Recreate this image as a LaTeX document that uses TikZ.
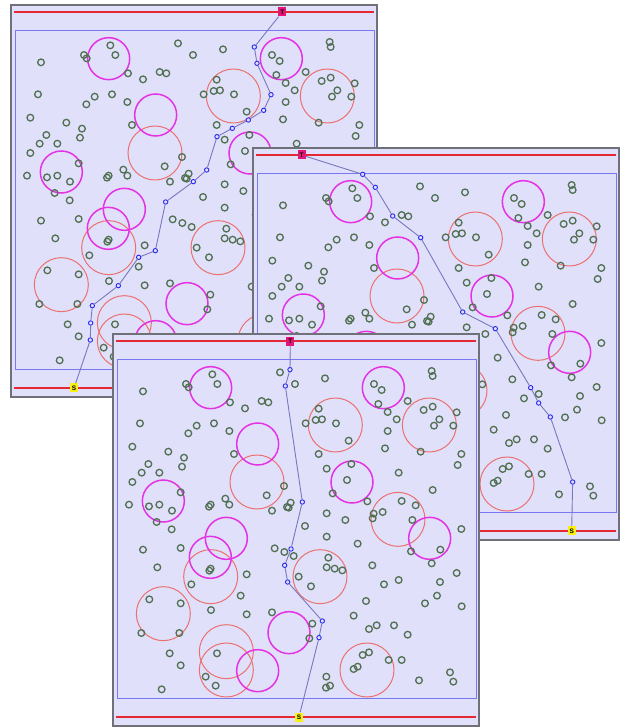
\documentclass[tikz,border=0pt]{standalone}
\usepackage{fontspec}
\setsansfont{Liberation Sans}
\definecolor{panelbg}{RGB}{224,224,250}
\definecolor{framegray}{RGB}{112,112,120}
\definecolor{redline}{RGB}{228,40,52}
\definecolor{bluerect}{RGB}{120,120,240}
\definecolor{obst}{RGB}{82,112,82}
\definecolor{pinkc}{RGB}{228,50,228}
\definecolor{salmonc}{RGB}{236,112,112}
\definecolor{pathline}{RGB}{120,120,190}
\definecolor{pathpt}{RGB}{40,40,240}
\definecolor{tcol}{RGB}{228,20,120}
\definecolor{scol}{RGB}{250,240,20}
\tikzset{
  obs/.style={draw=obst, line width=1.3pt},
  pinkcirc/.style={draw=pinkc, line width=1.5pt},
  salcirc/.style={draw=salmonc, line width=1pt},
  pp/.style={circle, draw=pathpt, fill=panelbg, line width=0.9pt, inner sep=0pt, minimum size=4.4pt},
  tbox/.style={rectangle, fill=tcol, inner sep=0pt, minimum width=8pt, minimum height=9pt, font=\sffamily\bfseries\fontsize{6.5}{6.5}\selectfont},
  sbox/.style={rectangle, fill=scol, inner sep=0pt, minimum width=8pt, minimum height=9pt, font=\sffamily\bfseries\fontsize{6.5}{6.5}\selectfont},
  pathl/.style={draw=pathline, line width=0.9pt},
  panelframe/.style={draw=framegray, line width=1.5pt, fill=panelbg},
  redbar/.style={draw=redline, line width=2pt},
  innerrect/.style={draw=bluerect, line width=0.9pt}
}
\newcommand\drawfield{%
  \foreach \x/\y in {676/285,958/285,441/456,864/568,302/740,630/740,160/851,349/965,349/1020,771/1020}
    \draw[salcirc] (\x,\y) circle[radius=81];
  \foreach \x/\y in {302/173,820/173,443/342,726/456,160/513,959/625,349/625,301/682,537/908,443/1022}
    \draw[pinkcirc] (\x,\y) circle[radius=63];
  \foreach \x/\y in {307/133,322/162,228/162,236/172,99/184,360/217,405/235,455/213,475/217,510/127,555/162,
    645/145,792/162,815/180,805/222,965/123,968/138,893/213,833/246,860/268,
    626/236,617/270,636/268,678/280,716/332,587/280,
    941/240,968/230,988/268,972/287,1030/287,1040/247,833/303,825/355,
    90/280,260/287,235/310,312/280,358/303,
    67/350,175/365,222/383,216/410,115/402,95/428,148/428,67/456,372/372,
    626/372,650/416,724/402,711/450,866/428,932/365,1054/372,1043/405,
    212/487,57/524,117/529,148/524,186/542,140/576,185/598,
    302/524,297/530,346/506,358/524,470/496,522/468,486/542,531/531,542/518,536/533,
    668/490,650/550,706/570,772/514,968/480,
    875/513,917/526,907/570,818/546,791/551,788/565,1054/597,
    903/664,991/659,965/700,1040/729,
    585/588,650/620,743/641,
    298/722,302/716,212/654,99/659,142/712,244/763,410/733,392/797,303/840,410/853,
    494/655,523/666,551/678,
    655/683,650/712,674/716,697/721,566/740,603/769,
    787/706,822/763,866/750,990/756,981/797,945/820,1055/829,768/813,731/857,
    118/808,212/820,94/909,208/909,
    486/847,607/881,598/925,
    777/897,800/886,852/886,893/914,
    321/970,287/1040,317/1067,179/970,212/1006,155/1078,
    758/975,777/967,731/1017,743/1010,836/990,875/990,649/1040,660/1067,648/1073,927/1051,1020/1027,1030/1055}
    \draw[obs] (\x,\y) circle[radius=10];
}
% #1 shift, #2 name prefix, #3 T x, #4 path points, #5 S x
\newcommand\mypanel[5]{%
  \begin{scope}[shift={#1}]
    \draw[panelframe] (0,0) rectangle (366,392);
    \draw[redbar] (3,7) -- (363,7);
    \draw[redbar] (3,383) -- (363,383);
    \draw[innerrect] (4,25) rectangle (363,364);
    \begin{scope}[shift={(-3,-4)}, scale=1/3]
      \drawfield
      \node[tbox] (#2-0) at (#3,33) {T};
      \foreach \x/\y [count=\k, remember=\k as \j (initially 0)] in {#4} {
        \node[pp] (#2-\k) at (\x,\y) {};
        \draw[pathl] (#2-\j) -- (#2-\k);
        \xdef\npts{\k}
      }
      \node[sbox] (#2S) at (#5,1161) {S};
      \draw[pathl] (#2-\npts) -- (#2S);
    \end{scope}
  \end{scope}}
\begin{document}
\begin{tikzpicture}[x=1pt, y=-1pt]
  \useasboundingbox (0,0) rectangle (629,727);
  \mypanel{(11,5)}{a}{823}{739/138,747/187,789/281,767/328,721/357,673/382,627/407,596/507,556/542,473/603,442/749,392/769,331/854,253/914,248/966,247/1017}{198}
  \mypanel{(253,148)}{b}{155}{338/91,376/130,428/216,512/281,638/504,736/554,842/731,866/777,901/819,968/1014}{965}
  \mypanel{(113,334)}{c}{541}{540/119,526/168,577/516,543/657,524/706,533/756,637/873,627/923}{567}
\end{tikzpicture}
\end{document}
